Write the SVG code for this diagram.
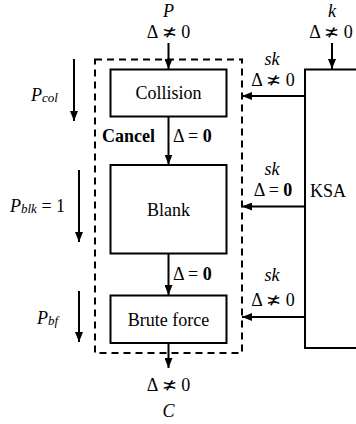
<svg xmlns="http://www.w3.org/2000/svg" width="356" height="424" viewBox="0 0 356 424" font-family="'Liberation Serif', 'Times New Roman', Tinos, 'DejaVu Serif', 'Noto Serif', serif">
<defs>
<marker id="ah" viewBox="0 0 10 8" refX="10" refY="4" markerWidth="10" markerHeight="8" markerUnits="userSpaceOnUse" orient="auto">
<path d="M0,0 L10,4 L0,8 Z" fill="#000"/>
</marker>
<style>
text{font-family:'Liberation Serif','Times New Roman',Tinos,'DejaVu Serif','Noto Serif',serif;font-size:18px;fill:#000}
.c{text-anchor:middle}
.i{font-style:italic}
.b{font-weight:bold}
.sub{font-size:13px;font-style:italic}
.box{fill:#fff;stroke:#000;stroke-width:2}
.ln{stroke:#000;stroke-width:2;fill:none}
.ar{stroke:#000;stroke-width:2;fill:none;marker-end:url(#ah)}
.dash{fill:none;stroke:#000;stroke-width:2;stroke-dasharray:7,5}
</style>
</defs>
<rect width="356" height="424" fill="#fff"/>

<g id="group-box">
<rect class="dash" x="95" y="59.5" width="147" height="293.5"/>
</g>

<g id="collision">
<rect class="box" x="110.5" y="69.5" width="116" height="47"/>
<text class="c" x="168.5" y="99">Collision</text>
</g>

<g id="blank">
<rect class="box" x="110.5" y="165" width="116" height="88.5"/>
<text class="c" x="168.5" y="216">Blank</text>
</g>

<g id="bruteforce">
<rect class="box" x="110.5" y="295.5" width="116" height="47.5"/>
<text class="c" x="168.5" y="326">Brute force</text>
</g>

<g id="ksa">
<path class="ln" d="M357,69.5 H305 V348 H357"/>
<text x="310" y="197">KSA</text>
</g>

<g id="labels">
<text class="c i" x="168.5" y="17">P</text>
<text class="c" x="168.5" y="38">Δ ≭ 0</text>
<text class="c i" x="332" y="17">k</text>
<text class="c" x="331" y="38">Δ ≭ 0</text>
<text class="c i" x="272" y="65">sk</text>
<text class="c" x="273" y="86">Δ ≭ 0</text>
<text class="c i" x="272" y="175">sk</text>
<text class="c" x="273" y="196">Δ = <tspan class="b">0</tspan></text>
<text class="c i" x="272" y="281">sk</text>
<text class="c" x="273" y="306">Δ ≭ 0</text>
<text class="b" x="155" y="142" text-anchor="end">Cancel</text>
<text x="173" y="142">Δ = <tspan class="b">0</tspan></text>
<text x="173" y="280">Δ = <tspan class="b">0</tspan></text>
<text class="c" x="168.5" y="391">Δ ≭ 0</text>
<text class="c i" x="168.5" y="417">C</text>
<text class="i" x="31" y="101">P<tspan class="sub" dy="1">col</tspan></text>
<text class="i" x="10" y="212">P<tspan class="sub" dy="1">blk</tspan><tspan dy="-1" font-style="normal"> = 1</tspan></text>
<text class="i" x="37" y="324">P<tspan class="sub" dy="1">bf</tspan></text>
</g>

<g id="connectors">
<line class="ar" x1="168.5" y1="43" x2="168.5" y2="69"/>
<line class="ar" x1="332" y1="43" x2="332" y2="69"/>
<line class="ar" x1="168.5" y1="117" x2="168.5" y2="164.5"/>
<line class="ar" x1="168.5" y1="254" x2="168.5" y2="295"/>
<line class="ar" x1="168.5" y1="343" x2="168.5" y2="368"/>
<line class="ar" x1="305" y1="96" x2="242" y2="96"/>
<line class="ar" x1="305" y1="206.5" x2="242" y2="206.5"/>
<line class="ar" x1="305" y1="317" x2="242" y2="317"/>
<line class="ar" x1="74" y1="59" x2="74" y2="121"/>
<line class="ar" x1="79" y1="170" x2="79" y2="242"/>
<line class="ar" x1="79" y1="291" x2="79" y2="342"/>
</g>
</svg>
